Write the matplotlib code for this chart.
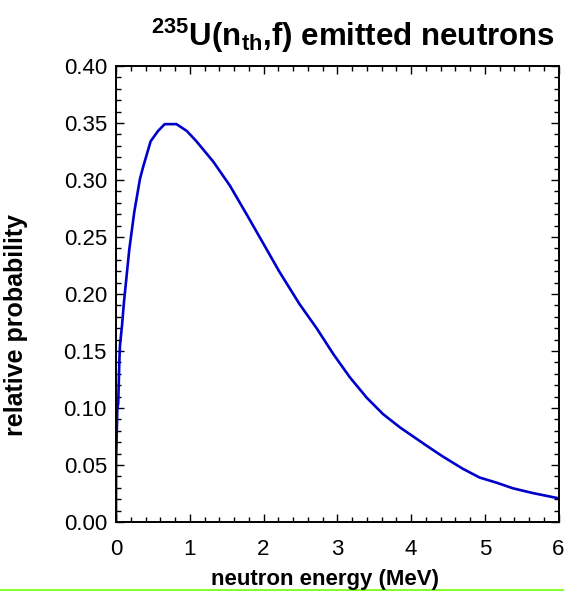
import matplotlib
matplotlib.use("Agg")
import matplotlib.pyplot as plt
from matplotlib.ticker import MultipleLocator
from matplotlib.lines import Line2D

# Prompt fission neutron spectrum, thermal-neutron induced fission of U-235
energy_mev = [0.0, 0.002, 0.018, 0.03, 0.045, 0.054, 0.081, 0.108, 0.18, 0.248,
              0.325, 0.37, 0.47, 0.57, 0.66, 0.82, 0.96, 1.09, 1.32, 1.545,
              1.77, 2.0, 2.22, 2.49, 2.72, 2.95, 3.17, 3.40, 3.62, 3.85,
              4.21, 4.43, 4.70, 4.93, 5.16, 5.38, 5.65, 6.0]
probability = [0.0, 0.055, 0.099, 0.104, 0.140, 0.155, 0.172, 0.193, 0.239, 0.272,
               0.301, 0.312, 0.334, 0.343, 0.349, 0.349, 0.343, 0.334, 0.316, 0.295,
               0.270, 0.244, 0.219, 0.191, 0.170, 0.147, 0.127, 0.109, 0.0947, 0.083,
               0.067, 0.0575, 0.0468, 0.039, 0.0345, 0.0296, 0.0254, 0.0208]

x_ticks = [0, 1, 2, 3, 4, 5, 6]
y_ticks = [0.00, 0.05, 0.10, 0.15, 0.20, 0.25, 0.30, 0.35, 0.40]

plt.rcParams["font.family"] = ["Liberation Sans", "DejaVu Sans"]
plt.rcParams["mathtext.default"] = "regular"

W, H = 564, 591
fig = plt.figure(figsize=(W / 100, H / 100), dpi=100)
ax = fig.add_axes([116 / W, 1 - 522 / H, (558.5 - 116) / W, (522 - 66) / H])

ax.plot(energy_mev, probability, color="#0000CC", lw=1.9, solid_joinstyle="round")

ax.set_xlim(0, 6)
ax.set_ylim(0, 0.40)
ax.set_xticks(x_ticks)
ax.set_xticklabels([str(t) for t in x_ticks])
ax.set_yticks(y_ticks)
ax.set_yticklabels([f"{t:.2f}" for t in y_ticks])
ax.xaxis.set_minor_locator(MultipleLocator(0.2))
ax.yaxis.set_minor_locator(MultipleLocator(0.01))

for s in ax.spines.values():
    s.set_linewidth(1.4)
ax.tick_params(which="both", direction="in", top=True, right=True, width=1.0,
               labelsize=16, colors="black")
ax.tick_params(which="major", length=6)
ax.tick_params(which="minor", length=3.5)
ax.tick_params(axis="y", which="major", pad=6.5)
ax.tick_params(axis="x", which="major", pad=12)

fig.text(325 / W, 1 - 580 / H, "neutron energy (MeV)", fontsize=16,
         fontweight="bold", ha="center", va="center")
fig.text(16 / W, 1 - 325 / H, "relative probability", fontsize=18,
         fontweight="bold", ha="center", va="center", rotation=90)
fig.text(353 / W, 1 - 36 / H, r"$^{235}$U(n$_{th}$,f) emitted neutrons",
         fontsize=22.5, fontweight="bold", ha="center", va="center")

# thin green rule along the bottom edge
fig.add_artist(Line2D([0, 1], [1.5 / H, 1.5 / H], transform=fig.transFigure,
                      color="#80FF20", lw=2.0))

fig.savefig("out.png", dpi=100)
